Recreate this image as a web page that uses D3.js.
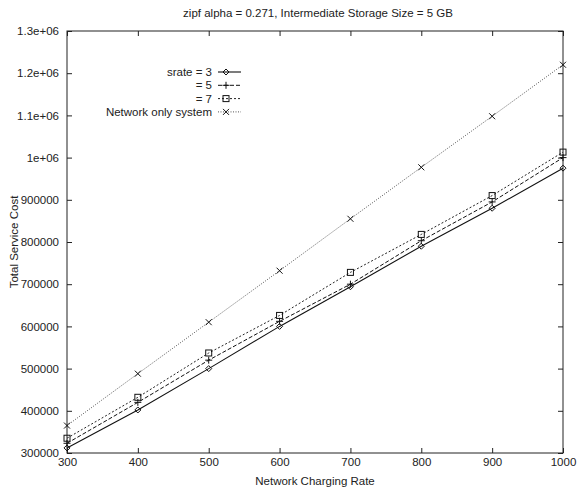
<!DOCTYPE html>
<html>
<head>
<meta charset="utf-8">
<script src="https://cdn.jsdelivr.net/npm/d3@7"></script>
<style>
  body { margin: 0; background: #fff; }
  svg text { font-family: "Liberation Sans", Arial, sans-serif; font-size: 11.5px; fill: #222; }
</style>
</head>
<body>
<div id="chart-container"></div>
<script>
const rates = [300, 400, 500, 600, 700, 800, 900, 1000];
const srate3 = [312000, 402000, 500000, 600000, 694000, 790000, 880000, 975000];
const srate5 = [323000, 420000, 520000, 612000, 700000, 803000, 895000, 1000000];
const srate7 = [335000, 432000, 537000, 626000, 728000, 818000, 910000, 1013000];
const networkOnly = [365000, 488000, 610000, 732000, 855000, 977000, 1098000, 1220000];
const yTicks = [300000, 400000, 500000, 600000, 700000, 800000, 900000, 1000000, 1100000, 1200000, 1300000];
const yTickLabels = ["300000", "400000", "500000", "600000", "700000", "800000", "900000", "1e+06", "1.1e+06", "1.2e+06", "1.3e+06"];
const seriesNames = ["srate = 3", "= 5", "= 7", "Network only system"];

const width = 578, height = 493;
const margin = { top: 31, right: 15, bottom: 40, left: 67 };
const innerW = width - margin.left - margin.right;
const innerH = height - margin.top - margin.bottom;

const svg = d3.select("#chart-container")
    .append("svg")
    .attr("width", width)
    .attr("height", height);

const g = svg.append("g")
    .attr("transform", "translate(" + margin.left + "," + margin.top + ")");

const x = d3.scaleLinear().domain([300, 1000]).range([0, innerW]);
const y = d3.scaleLinear().domain([300000, 1300000]).range([innerH, 0]);

// Frame
g.append("rect")
    .attr("width", innerW)
    .attr("height", innerH)
    .attr("fill", "none")
    .attr("stroke", "#222")
    .attr("stroke-width", 1);

// Ticks pointing inward on all four sides (gnuplot style)
const tickLen = 5;
g.append("g")
    .attr("transform", "translate(0," + innerH + ")")
    .call(d3.axisBottom(x).tickValues(rates).tickSize(-tickLen).tickPadding(5).tickFormat(d3.format("d")))
    .call((a) => a.select(".domain").remove());
g.append("g")
    .call(d3.axisTop(x).tickValues(rates).tickSize(-tickLen).tickFormat(""))
    .call((a) => a.select(".domain").remove());
g.append("g")
    .call(d3.axisLeft(y).tickValues(yTicks).tickSize(-tickLen).tickPadding(8)
        .tickFormat((d, i) => yTickLabels[i]))
    .call((a) => a.select(".domain").remove());
g.append("g")
    .attr("transform", "translate(" + innerW + ",0)")
    .call(d3.axisRight(y).tickValues(yTicks).tickSize(-tickLen).tickFormat(""))
    .call((a) => a.select(".domain").remove());

g.selectAll(".tick line").attr("stroke", "#222");
g.selectAll(".tick text")
    .style("font-family", "'Liberation Sans', Arial, sans-serif")
    .style("font-size", "11.5px")
    .attr("fill", "#222");

// Titles
svg.append("text")
    .attr("x", 318)
    .attr("y", 17)
    .attr("text-anchor", "middle")
    .text("zipf alpha = 0.271, Intermediate Storage Size = 5 GB");

svg.append("text")
    .attr("x", margin.left + innerW / 2)
    .attr("y", 485)
    .attr("text-anchor", "middle")
    .text("Network Charging Rate");

svg.append("text")
    .attr("transform", "translate(18," + (margin.top + innerH / 2) + ") rotate(-90)")
    .attr("text-anchor", "middle")
    .text("Total Service Cost");

// Series
const series = [
    { name: seriesNames[0], values: srate3, dash: null, stroke: "#111", width: 1.1, marker: "diamond" },
    { name: seriesNames[1], values: srate5, dash: "4,2", stroke: "#111", width: 1, marker: "plus" },
    { name: seriesNames[2], values: srate7, dash: "2,2", stroke: "#222", width: 1, marker: "square" },
    { name: seriesNames[3], values: networkOnly, dash: "1,1.5", stroke: "#555", width: 1, marker: "cross" }
];

function drawMarker(sel, type, cx, cy) {
    const m = sel.append("g").attr("transform", "translate(" + cx + "," + cy + ")");
    if (type === "diamond") {
        m.append("path").attr("d", "M0,-3L3,0L0,3L-3,0Z")
            .attr("fill", "none").attr("stroke", "#111").attr("stroke-width", 1);
    } else if (type === "plus") {
        m.append("path").attr("d", "M-3.5,0H3.5M0,-3.5V3.5")
            .attr("stroke", "#111").attr("stroke-width", 1);
    } else if (type === "square") {
        m.append("rect").attr("x", -3).attr("y", -3).attr("width", 6).attr("height", 6)
            .attr("fill", "none").attr("stroke", "#111").attr("stroke-width", 1);
    } else if (type === "cross") {
        m.append("path").attr("d", "M-3,-3L3,3M-3,3L3,-3")
            .attr("stroke", "#111").attr("stroke-width", 1);
    }
}

const line = d3.line()
    .x((d, i) => x(rates[i]))
    .y((d) => y(d));

series.forEach((s) => {
    g.append("path")
        .datum(s.values)
        .attr("fill", "none")
        .attr("stroke", s.stroke)
        .attr("stroke-width", s.width)
        .attr("stroke-dasharray", s.dash)
        .attr("d", line);
    s.values.forEach((v, i) => drawMarker(g, s.marker, x(rates[i]), y(v)));
});

// Legend
const legendX = 212, legendY0 = 72, legendStep = 13.3;
series.forEach((s, i) => {
    const ly = legendY0 + i * legendStep;
    svg.append("text")
        .attr("x", legendX)
        .attr("y", ly + 4)
        .attr("text-anchor", "end")
        .text(s.name);
    svg.append("line")
        .attr("x1", legendX + 6).attr("x2", legendX + 29)
        .attr("y1", ly).attr("y2", ly)
        .attr("stroke", s.stroke)
        .attr("stroke-width", s.width)
        .attr("stroke-dasharray", s.dash);
    drawMarker(svg, s.marker, legendX + 14, ly);
});
</script>
</body>
</html>
